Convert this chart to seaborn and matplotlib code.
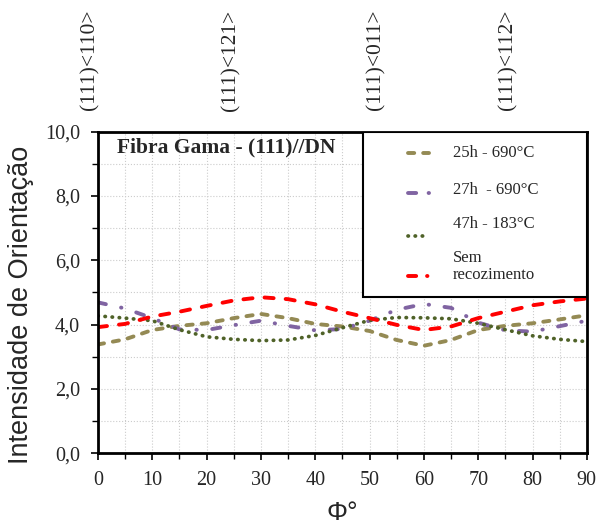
import numpy as np
import pandas as pd
import matplotlib
matplotlib.use("Agg")
import matplotlib.pyplot as plt
import seaborn as sns
from matplotlib.patches import Rectangle
from matplotlib.ticker import MultipleLocator, FuncFormatter

# --- Data (every 5 degrees) ---
phi = [0, 5, 10, 15, 20, 25, 30, 35, 40, 45, 50, 55, 60, 65, 70, 75, 80, 85, 90]
h25_690 = [3.38, 3.54, 3.83, 3.96, 4.04, 4.20, 4.33, 4.20, 4.02, 3.94, 3.80, 3.52, 3.34, 3.52, 3.83, 3.96, 4.04, 4.16, 4.29]
h27_690 = [4.69, 4.50, 4.20, 3.85, 3.83, 3.98, 4.12, 3.96, 3.82, 3.86, 4.12, 4.46, 4.64, 4.52, 4.06, 3.82, 3.78, 3.95, 4.12]
h47_183 = [4.27, 4.20, 4.12, 3.84, 3.62, 3.54, 3.50, 3.52, 3.66, 3.90, 4.13, 4.22, 4.21, 4.18, 4.04, 3.84, 3.65, 3.54, 3.47]
sem_rec = [3.92, 4.02, 4.25, 4.40, 4.58, 4.75, 4.85, 4.79, 4.63, 4.40, 4.20, 3.99, 3.83, 3.94, 4.20, 4.40, 4.60, 4.72, 4.81]

labels = ["25h - 690°C", "27h  - 690°C", "47h - 183°C", "Sem\nrecozimento"]
colors = ["#948A54", "#8064A2", "#4F6228", "#FF0000"]
# dash patterns (round caps), curve and legend key
dashes = [(1.6, 2.3), (2.1, 4.0, 0.1, 4.0), (0.1, 1.8), (2.35, 3.1)]
key_dashes = [(1.6, 2.3), (2.1, 3.2, 0.1, 3.2), (0.1, 1.8), (2.1, 2.8, 0.1, 3.1)]
widths = [2.8, 2.8, 2.7, 2.8]
top_labels = ["(111)<110>", "(111)<121>", "(111)<011>", "(111)<112>"]
top_x = [0.151, 0.387, 0.630, 0.851]   # figure coords, as placed in the original

series = [h25_690, h27_690, h47_183, sem_rec]

# --- Plot ---
sns.set_style("white")
plt.rcParams["font.family"] = ["Liberation Serif", "DejaVu Serif"]

fig = plt.figure(figsize=(5.97, 5.25), dpi=100)
ax = fig.add_axes([0.164, 0.137, 0.819, 0.612])

for vals, col, ds, lw in zip(series, colors, dashes, widths):
    sns.lineplot(x=phi, y=vals, ax=ax, color=col, linewidth=lw, legend=False)
    ln = ax.get_lines()[-1]
    ln.set_dashes(ds)
    ln.set_dash_capstyle("round")

ax.set_xlim(0, 90)
ax.set_ylim(0, 10)
ax.xaxis.set_major_locator(MultipleLocator(10))
ax.xaxis.set_minor_locator(MultipleLocator(5))
ax.yaxis.set_major_locator(MultipleLocator(2))
ax.yaxis.set_minor_locator(MultipleLocator(1))
ax.yaxis.set_major_formatter(FuncFormatter(lambda v, p: f"{v:.1f}".replace(".", ",")))
ax.grid(True, which="both", color="#cccccc", linestyle=":", linewidth=0.8)
ax.set_axisbelow(True)
ax.tick_params(which="both", direction="out", bottom=True, left=True, color="black")
ax.tick_params(which="major", length=5, width=1.2, labelsize=14.5)
ax.tick_params(axis="y", which="major", pad=8)
ax.tick_params(axis="x", which="major", pad=8)
ax.tick_params(which="minor", length=4, width=1.0)
for s in ax.spines.values():
    s.set_color("black")
    s.set_linewidth(2)

ax.set_xlabel("Φ°", family=["Liberation Sans", "DejaVu Sans"], fontsize=19, labelpad=8)
ax.set_ylabel("Intensidade de Orientação", family=["Liberation Sans", "DejaVu Sans"], fontsize=19.5)
ax.yaxis.set_label_coords(-0.131, 0.461)

ax.text(0.04, 0.95, "Fibra Gama - (111)//DN", transform=ax.transAxes, fontsize=15.5,
        fontweight="bold", va="center", ha="left")

for xf, t in zip(top_x, top_labels):
    fig.text(xf, 0.981, t, rotation=90, ha="center", va="top", fontsize=15.5)

# --- Legend box (drawn like the original: wide frame, keys on the left) ---
ax.add_patch(Rectangle((0.542, 0.486), 0.458, 0.514, transform=ax.transAxes,
                       facecolor="white", edgecolor="black", linewidth=1.5, zorder=5))
key_y = [0.935, 0.810, 0.676, 0.551]
text_y = [0.935, 0.819, 0.713, 0.58]
for ky, ty, lab, col, ds, lw in zip(key_y, text_y, labels, colors, key_dashes, widths):
    ax.plot([0.634, 0.678], [ky, ky], transform=ax.transAxes, color=col, linewidth=lw,
            dashes=ds, dash_capstyle="round", zorder=6)
    ax.text(0.726, ty, lab, transform=ax.transAxes, fontsize=12, va="center", ha="left",
            linespacing=1.1, zorder=6)

fig.savefig("out.png", dpi=100)
